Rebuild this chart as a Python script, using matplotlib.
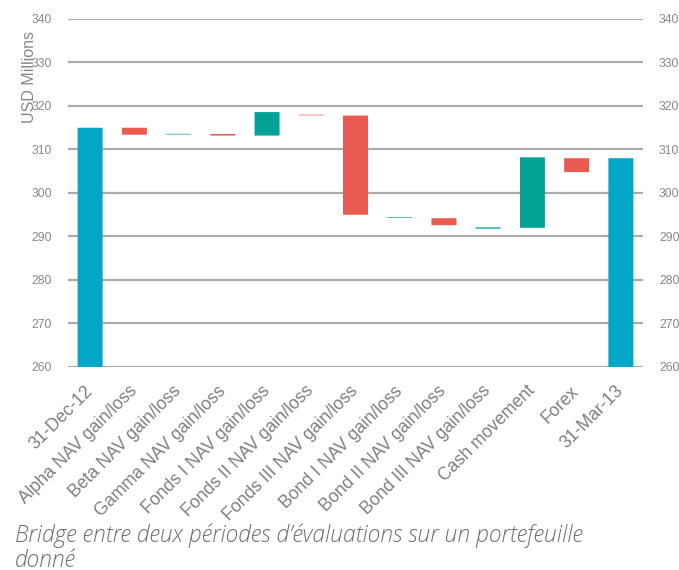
import matplotlib
matplotlib.use("Agg")
import matplotlib.pyplot as plt

# Données du pont (bridge) entre deux évaluations, en millions USD
categories = ["31-Dec-12", "Alpha NAV gain/loss", "Beta NAV gain/loss", "Gamma NAV gain/loss",
              "Fonds I NAV gain/loss", "Fonds II NAV gain/loss", "Fonds III NAV gain/loss",
              "Bond I NAV gain/loss", "Bond II NAV gain/loss", "Bond III NAV gain/loss",
              "Cash movement", "Forex", "31-Mar-13"]
lows = [260.0, 313.4, 313.45, 313.2, 313.2, 317.85, 295.0, 294.25, 292.6, 291.8, 292.0, 304.8, 260.0]
highs = [315.0, 315.0, 313.6, 313.55, 318.6, 318.0, 317.8, 294.4, 294.2, 292.1, 308.2, 308.0, 308.0]
kinds = ["total", "down", "up", "down", "up", "down", "down", "up", "down", "up", "up", "down", "total"]
yticks = [260, 270, 280, 290, 300, 310, 320, 330, 340]

palette = {"total": "#02A6C7", "down": "#E95A50", "up": "#04A197"}

fig = plt.figure(figsize=(6.79, 5.7), dpi=100)
ax = fig.add_axes([68 / 679, 1 - 367 / 570, 575 / 679, 348 / 570])

x = list(range(len(categories)))
heights = [h - l for l, h in zip(lows, highs)]
bars = ax.bar(x, heights, bottom=lows, width=0.565, color=[palette[k] for k in kinds], zorder=3)
for b in bars:
    b.set_snap(False)  # garder les très petites barres visibles (traits pâles)

ax.set_xlim(-0.5, len(categories) - 0.5)
ax.set_ylim(260, 340)
ax.set_yticks(yticks)
ax.yaxis.grid(True, color="#ABABAB", linewidth=1.6, zorder=0)
ax.set_axisbelow(True)
for s in ax.spines.values():
    s.set_visible(False)

ax.tick_params(axis="y", left=False, right=False, labelleft=True, labelright=True,
               labelsize=8.7, labelcolor="#888888", pad=8)
ax.tick_params(axis="x", bottom=False, labelsize=12.7, labelcolor="#7F7F7F", pad=12)
ax.set_xticks(x)
ax.set_xticklabels(categories, rotation=45, ha="right", va="center",
                   rotation_mode="anchor", family="Liberation Sans")
for lab in ax.yaxis.get_ticklabels(which="major"):
    lab.set_family("Liberation Sans")

fig.text(30 / 679, 1 - 77 / 570, "USD Millions", rotation=90, ha="center", va="center",
         fontsize=11.5, color="#888888", family="Liberation Sans")

fig.text(15 / 679, 1 - 524 / 570,
         "Bridge entre deux périodes d’évaluations sur un portefeuille\ndonné",
         ha="left", va="top", fontsize=16.5, color="#6E6E6E", family="Open Sans",
         style="italic", weight="light", linespacing=1.05)

fig.savefig("out.png", dpi=100)
